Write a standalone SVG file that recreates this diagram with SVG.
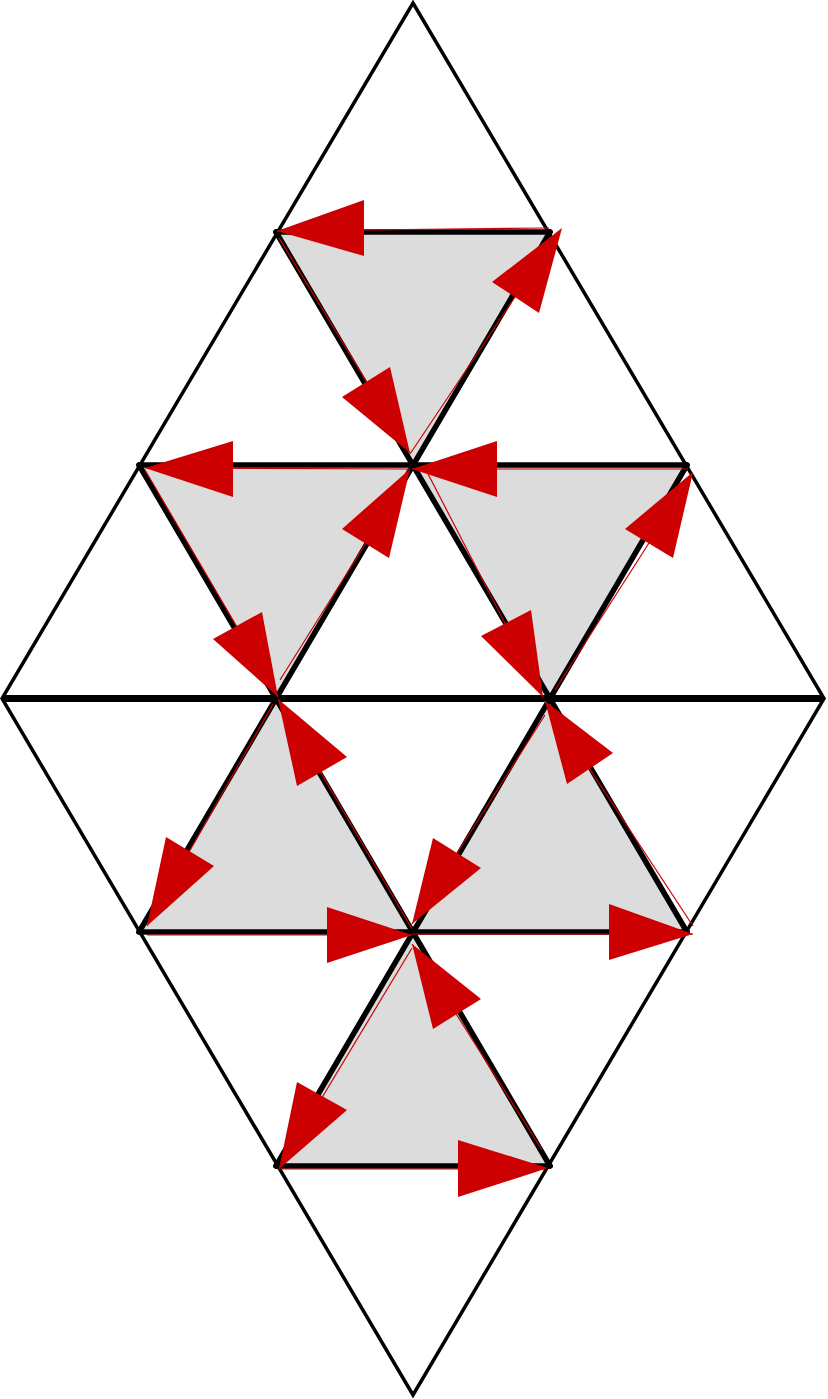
<svg xmlns="http://www.w3.org/2000/svg" width="828" height="1399" viewBox="0 0 828 1399">
<style>
.tri{fill:#dcdcdc;stroke:none}
.outer{stroke:#000;stroke-width:3.5;fill:none;stroke-linejoin:miter}
.inner{stroke:#000;stroke-width:5.5;fill:none;stroke-linecap:round}
.mid{stroke:#000;stroke-width:7;fill:none}
.rl{stroke:#cc0000;stroke-width:1.2;fill:none}
.ah{fill:#cc0000;stroke:none}
</style>
<rect width="828" height="1399" fill="#fff"/>
<g id="shaded">
<polygon class="tri" points="276,232 550,232 413,465"/>
<polygon class="tri" points="139,465 413,465 276,698.5"/>
<polygon class="tri" points="413,465 687,465 550,698.5"/>
<polygon class="tri" points="276,698.5 139,932 413,932"/>
<polygon class="tri" points="550,698.5 413,932 687,932"/>
<polygon class="tri" points="413,932 276,1166 550,1166"/>
</g>
<g id="lattice">
<polygon class="outer" points="413,3 824,698.5 413,1395 2,698.5"/>
<line class="inner" x1="276" y1="232" x2="550" y2="232"/>
<line class="inner" x1="139" y1="465" x2="687" y2="465"/>
<line class="mid" x1="2" y1="698.5" x2="824" y2="698.5"/>
<line class="inner" x1="139" y1="932" x2="687" y2="932"/>
<line class="inner" x1="276" y1="1166" x2="550" y2="1166"/>
<line class="inner" x1="276" y1="232" x2="687" y2="932"/>
<line class="inner" x1="139" y1="465" x2="550" y2="1166"/>
<line class="inner" x1="550" y1="232" x2="139" y2="932"/>
<line class="inner" x1="687" y1="465" x2="276" y2="1166"/>
</g>
<g id="connectors">
<g id="t1">
<line class="rl" x1="549" y1="228" x2="277" y2="231"/>
<polygon class="ah" points="277,231 364,200 364,256"/>
<line class="rl" x1="410" y1="454" x2="515" y2="297"/>
<polygon class="ah" points="562,228 492,282 539,313"/>
<line class="rl" x1="279" y1="238" x2="410" y2="453"/>
<polygon class="ah" points="410,453 342,397 390,367"/>
</g>
<g id="t2">
<line class="rl" x1="410" y1="469" x2="145" y2="468"/>
<polygon class="ah" points="145,468 233,441 233,497"/>
<line class="rl" x1="280" y1="680" x2="366" y2="543"/>
<polygon class="ah" points="410,469 342,529 389,558"/>
<line class="rl" x1="145" y1="470" x2="278" y2="697"/>
<polygon class="ah" points="278,697 213,639 262,612"/>
</g>
<g id="t3">
<line class="rl" x1="688" y1="469" x2="412" y2="469"/>
<polygon class="ah" points="412,469 497,441 497,497"/>
<line class="rl" x1="555" y1="690" x2="649" y2="543"/>
<polygon class="ah" points="693,472 625,529 673,558"/>
<line class="rl" x1="425" y1="468" x2="543" y2="697"/>
<polygon class="ah" points="543,697 481,636 531,610"/>
</g>
<g id="t4">
<line class="rl" x1="412" y1="929" x2="278" y2="699"/>
<polygon class="ah" points="278,699 347,757 297,786"/>
<line class="rl" x1="273" y1="704" x2="147" y2="926"/>
<polygon class="ah" points="147,926 166,837 214,866"/>
<line class="rl" x1="147" y1="935" x2="412" y2="935"/>
<polygon class="ah" points="412,935 327,907 327,963"/>
</g>
<g id="t5">
<line class="rl" x1="693" y1="926" x2="545" y2="701"/>
<polygon class="ah" points="545,701 613,753 567,784"/>
<line class="rl" x1="545" y1="715" x2="412" y2="924"/>
<polygon class="ah" points="412,924 433,838 481,868"/>
<line class="rl" x1="412" y1="934" x2="693" y2="934"/>
<polygon class="ah" points="693,934 609,904 609,960"/>
</g>
<g id="t6">
<line class="rl" x1="542" y1="1150" x2="412" y2="944"/>
<polygon class="ah" points="412,944 481,999 433,1029"/>
<line class="rl" x1="412" y1="948" x2="279" y2="1169"/>
<polygon class="ah" points="279,1169 297,1082 347,1110"/>
<line class="rl" x1="279" y1="1169" x2="545" y2="1169"/>
<polygon class="ah" points="548,1168 458,1140 458,1197"/>
</g>
</g>
</svg>
